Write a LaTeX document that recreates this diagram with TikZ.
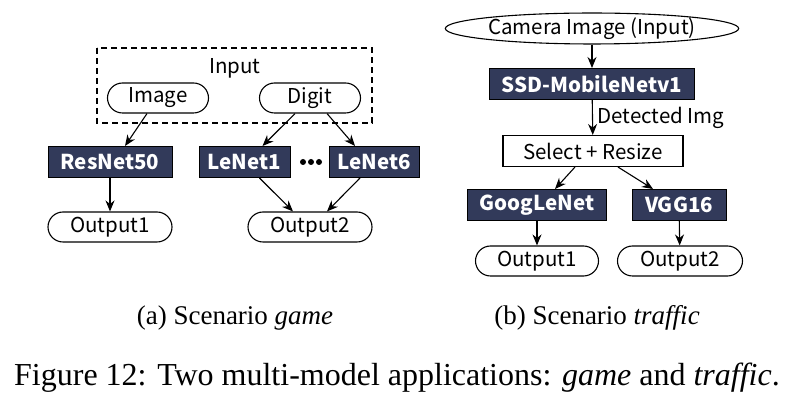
\documentclass[tikz,border=0pt]{standalone}
\usepackage{fontspec}
\setmainfont{Liberation Serif}
\newfontfamily\diagfont{Noto Sans CJK KR}
\usetikzlibrary{shapes.geometric,arrows.meta}
\definecolor{modelblue}{RGB}{50,58,90}
\newcommand{\diagsize}{\diagfont\fontsize{20.5}{20.5}\selectfont}
\tikzset{
  model/.style={draw=black, line width=1pt, fill=modelblue, text=white, font=\diagsize\bfseries, minimum height=31pt, inner sep=0pt},
  io/.style={draw=black, line width=1.1pt, rounded corners=15pt, minimum height=30pt, inner sep=0pt, font=\diagsize},
  plainbox/.style={draw=black, line width=1.1pt, minimum height=31pt, inner sep=0pt, font=\diagsize},
  flow/.style={-{Stealth[length=11pt,width=9pt]}, line width=1.1pt},
}
\begin{document}
\begin{tikzpicture}[x=1pt,y=-1pt]
	\useasboundingbox (0,0) rectangle (785,411);
	% scenario game
	\draw [dashed, line width=1.1pt, dash pattern=on 6pt off 4pt] (97,48) rectangle (372,123);
	\node [font=\diagsize] (in) at (235,68) {Input};
	\node [io, minimum width=101pt] (img) at (158,98) {Image};
	\node [io, minimum width=101pt] (dig) at (310,98) {Digit};
	\node [model, minimum width=124pt] (res) at (110,162) {ResNet50};
	\node [model, minimum width=91pt] (le1) at (244.5,162) {LeNet1};
	\foreach \i in {303,311,319}
	  \fill (\i,162) circle (3pt);
	\node [model, minimum width=90pt] (le6) at (374,162) {LeNet6};
	\node [io, minimum width=124pt] (out1) at (110,227) {Output1};
	\node [io, minimum width=124pt] (out2) at (310,227) {Output2};
	\draw [flow] ([xshift=-11pt]img.south) -- ([xshift=15pt]res.north);
	\draw [flow] ([xshift=-15pt]dig.south) -- ([xshift=18pt]le1.north);
	\draw [flow] ([xshift=17pt]dig.south) -- ([xshift=-19pt]le6.north);
	\draw [flow] (res) -- (out1);
	\draw [flow] ([xshift=15pt]le1.south) -- ([xshift=-17pt]out2.north);
	\draw [flow] ([xshift=-14pt]le6.south) -- ([xshift=17pt]out2.north);
	% scenario traffic
	\node [ellipse, draw=black, line width=1.1pt, minimum width=291pt, minimum height=29pt, inner sep=0pt, font=\diagsize] (cam) at (592,28.5) {Camera Image (Input)};
	\node [model, minimum width=205pt] (ssd) at (592,84) {SSD-MobileNetv1};
	\node [plainbox, minimum width=180pt] (sel) at (593,151) {Select + Resize};
	\node [model, minimum width=139pt] (goog) at (537,205) {GoogLeNet};
	\node [model, minimum width=94pt] (vgg) at (679,205) {VGG16};
	\node [io, minimum width=123pt] (out3) at (537,261) {Output1};
	\node [io, minimum width=125pt] (out4) at (680,261) {Output2};
	\draw [flow] (cam) -- (ssd);
	\draw [flow] (ssd) -- node [right, font=\diagsize, xshift=1pt] (det) {Detected Img} (sel);
	\draw [flow] ([xshift=-18pt]sel.south) -- ([xshift=18pt]goog.north);
	\draw [flow] ([xshift=25pt]sel.south) -- ([xshift=-26pt]vgg.north);
	\draw [flow] (goog) -- (out3);
	\draw [flow] (vgg) -- (out4);
	% captions
	\node [font=\fontsize{27}{27}\selectfont] (capa) at (235,318) {(a) Scenario \textit{game}};
	\node [font=\fontsize{27}{27}\selectfont] (capb) at (597,318) {(b) Scenario \textit{traffic}};
	\node [font=\fontsize{32}{32}\selectfont] (fig) at (397,378) {Figure 12: Two multi-model applications: \textit{game} and \textit{traffic}.};
\end{tikzpicture}
\end{document}
